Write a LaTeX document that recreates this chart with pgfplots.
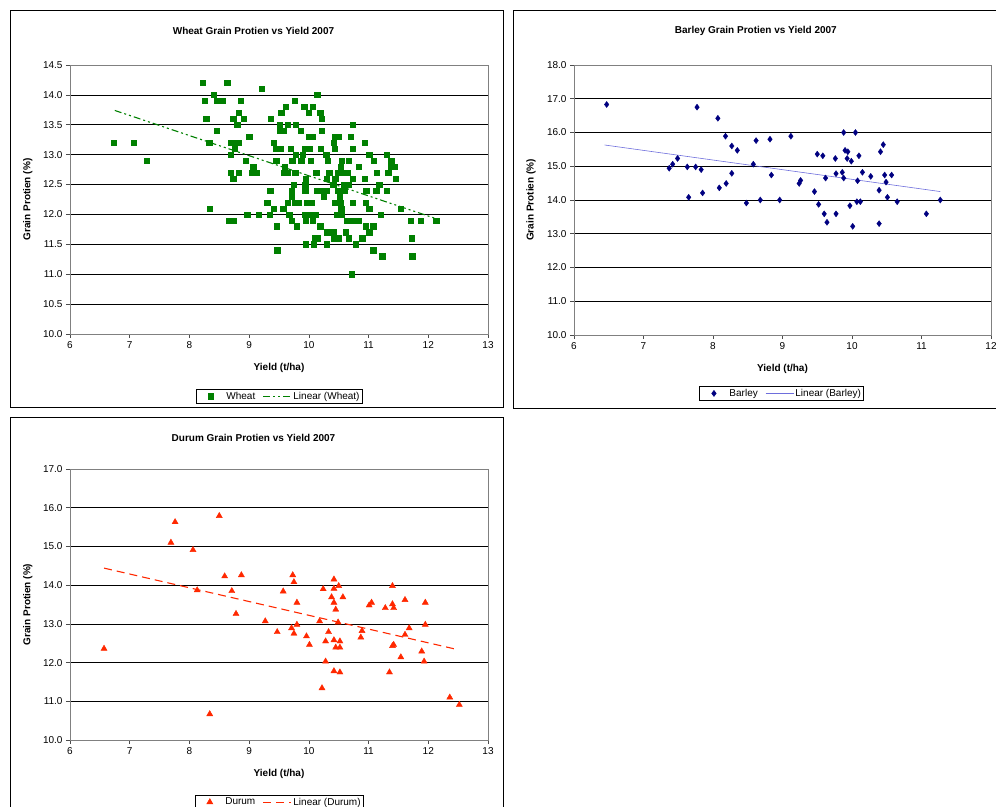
\documentclass[border=0pt]{standalone}
\usepackage{fontspec}
\setmainfont{Liberation Sans}
\usepackage{pgfplots}
\pgfplotsset{compat=1.18}
\definecolor{wgreen}{RGB}{0,128,0}
\definecolor{bnavy}{RGB}{0,0,128}
\definecolor{btrend}{RGB}{110,110,220}
\definecolor{dred}{RGB}{255,40,0}
\definecolor{bordergray}{RGB}{128,128,128}
\pgfplotsset{
  mychart/.style={
    scale only axis,
    axis line style={bordergray},
    ymajorgrids, major grid style={black, line width=0.6bp},
    tick align=outside, xtick pos=left, ytick pos=left,
    major tick length=4bp,
    tick style={black!70, line width=0.6bp},
    ticklabel style={font=\fontsize{10bp}{12bp}\selectfont},
    /pgf/number format/assume math mode=true,
    title style={font=\bfseries\fontsize{10bp}{12bp}\selectfont, anchor=center},
    label style={font=\bfseries\fontsize{10bp}{12bp}\selectfont},
    xlabel style={at={(axis description cs:0.5,-0.126)}, anchor=center},
    ylabel style={at={(axis description cs:-0.101,0.5)}, anchor=center},
    xlabel={Yield (t/ha)}, ylabel={Grain Protien (\%)},
    xmin=6, xmax=13, xtick={6,7,8,9,10,11,12,13},
    yticklabel style={/pgf/number format/.cd, fixed, fixed zerofill, precision=1},
    legend columns=2,
    legend style={draw=black, line width=0.5bp, font=\fontsize{10bp}{12bp}\selectfont,
      anchor=north, inner xsep=1bp, inner ysep=1bp,
      nodes={inner sep=1.5bp},
      /tikz/every even column/.append style={column sep=6bp}},
    clip=false,
  },
  mkleg/.style={legend image code/.code={\path[draw=none,fill=none] (0bp,-3bp) rectangle (28bp,3bp); \draw[mark repeat=2,mark phase=2,##1] plot coordinates {(0bp,0bp) (14bp,0bp) (28bp,0bp)};}},
  lnleg/.style={legend image code/.code={\draw[##1] (0bp,0bp) -- (28bp,0bp);}},
}
\begin{document}
\begin{tikzpicture}[x=1bp,y=1bp]
\useasboundingbox (0bp,0bp) rectangle (996bp,807bp);
\draw[black, line width=0.8bp] (10bp,400bp) rectangle (503bp,797bp);
\draw[black, line width=0.8bp] (513bp,399bp) rectangle (1005bp,797bp);
\draw[black, line width=0.8bp] (10bp,-10bp) rectangle (503bp,390bp);
% Wheat
\begin{axis}[mychart, at={(70bp,473bp)}, anchor=south west, width=418bp, height=269bp,
  ymin=10, ymax=14.5, ytick={10,10.5,11,11.5,12,12.5,13,13.5,14,14.5},
  title={Wheat Grain Protien vs Yield 2007}, title style={at={(0.439,1.104)}},
  legend style={at={(0.5,-0.205)}}]
\addplot[only marks, mark=square*, mark size=2.7bp, wgreen, mkleg] coordinates {
(8.22,14.2)(8.63,14.2)(9.21,14.1)(8.41,14.0)(10.14,14.0)
(8.26,13.9)(8.46,13.9)(8.56,13.9)(8.86,13.9)(9.76,13.9)
(9.61,13.8)(9.92,13.8)(10.06,13.8)
(8.83,13.7)(9.54,13.7)(10.0,13.7)(10.19,13.7)
(8.28,13.6)(8.73,13.6)(8.91,13.6)(9.36,13.6)(10.22,13.6)
(8.80,13.5)(9.51,13.5)(9.65,13.5)(9.78,13.5)(10.73,13.5)
(8.46,13.4)(9.51,13.4)(9.57,13.4)(9.86,13.4)(10.22,13.4)
(9.0,13.3)(10.0,13.3)(10.06,13.3)(10.43,13.3)(10.49,13.3)(10.70,13.3)
(6.73,13.2)(7.07,13.2)(8.33,13.2)(8.69,13.2)(8.75,13.2)(8.82,13.2)(9.41,13.2)(10.42,13.2)(10.94,13.2)
(8.76,13.1)(9.45,13.1)(9.53,13.1)(9.70,13.1)(9.94,13.1)(10.01,13.1)(10.20,13.1)(10.43,13.1)(10.73,13.1)
(8.69,13.0)(9.78,13.0)(9.90,13.0)(10.29,13.0)(11.01,13.0)(11.30,13.0)
(7.28,12.9)(8.94,12.9)(9.45,12.9)(9.72,12.9)(9.87,12.9)(10.03,12.9)(10.32,12.9)(10.55,12.9)(10.67,12.9)(11.09,12.9)(11.38,12.9)
(9.07,12.8)(9.60,12.8)(10.53,12.8)(10.83,12.8)(11.38,12.8)(11.43,12.8)
(8.69,12.7)(8.83,12.7)(9.05,12.7)(9.13,12.7)(9.59,12.7)(9.64,12.7)(9.77,12.7)(10.12,12.7)(10.34,12.7)(10.49,12.7)(10.59,12.7)(10.65,12.7)(11.14,12.7)(11.33,12.7)
(8.73,12.6)(9.95,12.6)(10.30,12.6)(10.44,12.6)(10.73,12.6)(10.94,12.6)(11.45,12.6)
(9.75,12.5)(9.94,12.5)(10.41,12.5)(10.59,12.5)(10.66,12.5)(11.18,12.5)
(9.35,12.4)(9.71,12.4)(9.94,12.4)(10.14,12.4)(10.19,12.4)(10.29,12.4)(10.48,12.4)(10.59,12.4)(10.96,12.4)(11.13,12.4)(11.30,12.4)
(9.71,12.3)(10.25,12.3)(10.52,12.3)
(9.30,12.2)(9.65,12.2)(9.76,12.2)(9.83,12.2)(9.96,12.2)(10.04,12.2)(10.43,12.2)(10.53,12.2)(10.73,12.2)(10.95,12.2)
(8.34,12.1)(9.41,12.1)(9.57,12.1)(10.54,12.1)(11.01,12.1)(11.54,12.1)
(8.97,12.0)(9.16,12.0)(9.34,12.0)(9.67,12.0)(9.94,12.0)(10.05,12.0)(10.11,12.0)(10.47,12.0)(10.54,12.0)(11.20,12.0)
(8.66,11.9)(8.74,11.9)(9.71,11.9)(9.95,11.9)(10.06,11.9)(10.64,11.9)(10.75,11.9)(10.83,11.9)(11.71,11.9)(11.87,11.9)(12.13,11.9)
(9.46,11.8)(9.80,11.8)(10.19,11.8)(10.95,11.8)(11.08,11.8)
(10.30,11.7)(10.37,11.7)(10.42,11.7)(10.62,11.7)(11.01,11.7)
(10.10,11.6)(10.14,11.6)(10.42,11.6)(10.49,11.6)(10.67,11.6)(10.89,11.6)(11.72,11.6)
(9.95,11.5)(10.08,11.5)(10.30,11.5)(10.78,11.5)
(9.47,11.4)(11.08,11.4)(11.23,11.3)(11.73,11.3)(10.72,11.0)
};
\addlegendentry{Wheat}
\addplot[wgreen, line width=1.1bp, dash pattern=on 7bp off 3bp on 2bp off 3bp on 2bp off 3bp, lnleg] coordinates {(6.75,13.74)(12.1,11.94)};
\addlegendentry{Linear (Wheat)}
\end{axis}
% Barley
\begin{axis}[mychart, at={(574bp,472bp)}, anchor=south west, width=417bp, height=270bp,
  xmax=12, xtick={6,7,8,9,10,11,12},
  ymin=10, ymax=18, ytick={10,11,12,13,14,15,16,17,18},
  title={Barley Grain Protien vs Yield 2007}, title style={at={(0.436,1.104)}},
  ylabel style={at={(axis description cs:-0.103,0.5)}},
  legend style={at={(0.497,-0.19)}}]
\addplot[only marks, mark=diamond*, mark size=3bp, bnavy, mkleg] coordinates {
(6.47,16.83)(7.77,16.75)(8.07,16.42)(8.18,15.89)(8.27,15.60)(8.35,15.47)(8.62,15.76)(8.82,15.80)
(9.12,15.89)(8.58,15.06)(8.84,14.74)(7.49,15.23)(7.42,15.06)(7.37,14.94)(7.63,14.98)(7.75,14.98)
(7.83,14.90)(8.27,14.79)(8.19,14.49)(8.09,14.36)(7.65,14.08)(7.85,14.21)(8.48,13.91)(8.68,14.0)
(8.96,14.0)(9.24,14.49)(9.26,14.58)(9.46,14.25)(9.50,15.36)(9.58,15.31)(9.62,14.65)(9.52,13.87)
(9.60,13.59)(9.64,13.34)(9.76,15.23)(9.77,14.78)(9.77,13.59)(9.86,14.82)(9.88,14.65)(9.88,16.0)
(9.90,15.47)(9.94,15.43)(9.93,15.23)(9.99,15.15)(9.97,13.83)(10.01,13.22)(10.05,16.0)(10.10,15.31)
(10.08,14.57)(10.15,14.82)(10.07,13.95)(10.12,13.95)(10.27,14.70)(10.39,14.29)(10.41,15.43)(10.45,15.64)
(10.47,14.74)(10.49,14.53)(10.51,14.08)(10.57,14.74)(10.65,13.95)(10.39,13.30)(11.07,13.59)(11.27,14.0)
};
\addlegendentry{Barley}
\addplot[btrend, line width=0.6bp, lnleg] coordinates {(6.44,15.63)(11.27,14.25)};
\addlegendentry{Linear (Barley)}
\end{axis}
% Durum
\begin{axis}[mychart, at={(70bp,67bp)}, anchor=south west, width=418bp, height=271bp,
  ymin=10, ymax=17, ytick={10,11,12,13,14,15,16,17},
  title={Durum Grain Protien vs Yield 2007}, title style={at={(0.439,1.092)}},
  legend style={at={(0.5,-0.203)}}]
\addplot[only marks, mark=triangle*, mark size=3.5bp, dred, mkleg] coordinates {
(6.57,12.36)(7.76,15.63)(7.69,15.10)(8.06,14.91)(8.50,15.79)(8.13,13.87)(8.34,10.67)(8.59,14.23)
(8.87,14.26)(8.71,13.85)(8.78,13.26)(9.27,13.07)(9.47,12.79)(9.57,13.84)(9.73,14.26)(9.75,14.08)
(9.80,13.55)(9.71,12.89)(9.75,12.75)(9.80,12.98)(9.96,12.68)(10.01,12.46)(10.18,13.07)(10.24,13.90)
(10.22,11.34)(10.28,12.55)(10.28,12.03)(10.33,12.79)(10.38,13.69)(10.42,14.15)(10.42,13.91)(10.42,13.55)
(10.45,13.37)(10.50,13.98)(10.57,13.69)(10.49,13.04)(10.42,12.58)(10.52,12.55)(10.45,12.39)(10.52,12.39)
(10.42,11.78)(10.52,11.75)(10.87,12.65)(10.89,12.82)(11.01,13.48)(11.05,13.55)(11.28,13.41)(11.40,13.98)
(11.40,13.51)(11.42,13.41)(11.40,12.43)(11.42,12.46)(11.35,11.75)(11.54,12.14)(11.61,13.62)(11.61,12.72)
(11.68,12.89)(11.89,12.29)(11.93,12.03)(11.95,13.55)(11.95,12.98)(12.36,11.10)(12.52,10.91)
};
\addlegendentry{Durum}
\addplot[dred, line width=1.1bp, dash pattern=on 8bp off 5bp, lnleg] coordinates {(6.57,14.44)(12.45,12.35)};
\addlegendentry{Linear (Durum)}
\end{axis}
\end{tikzpicture}
\end{document}
